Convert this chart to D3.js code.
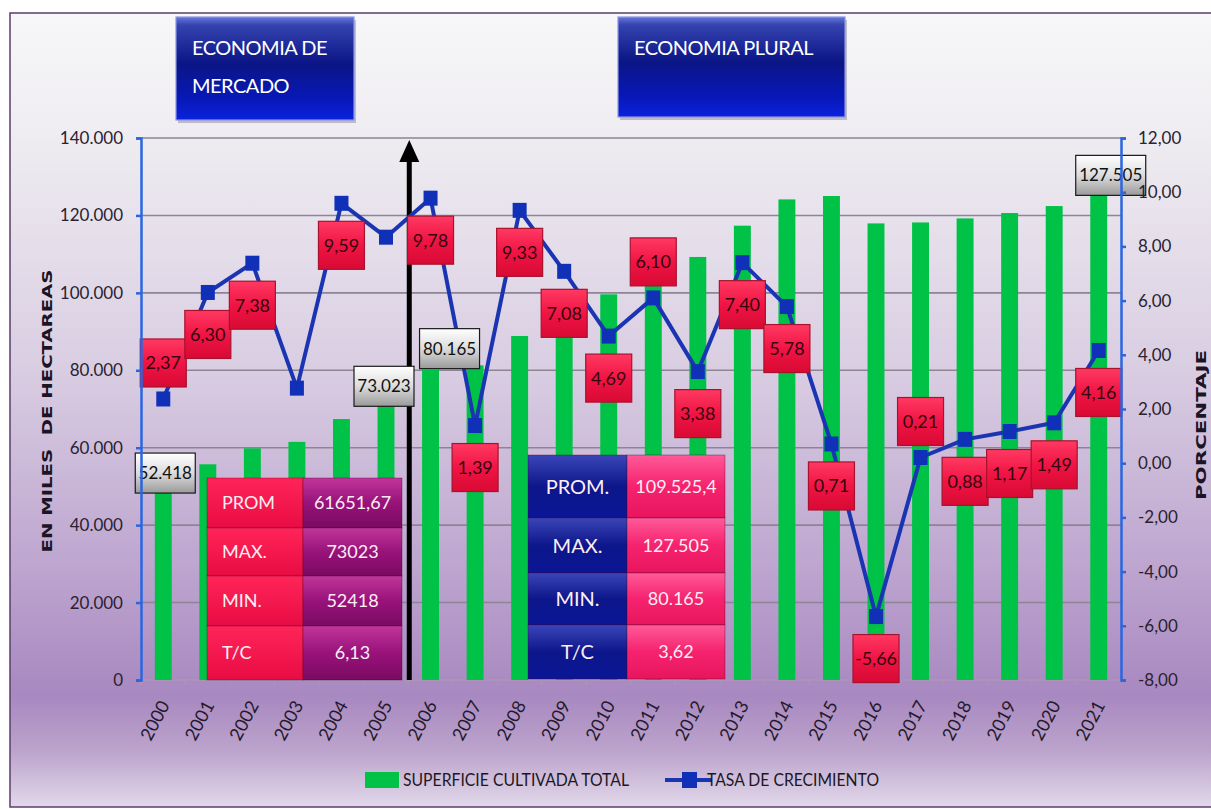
<!DOCTYPE html>
<html>
<head>
<meta charset="utf-8">
<script src="https://cdn.jsdelivr.net/npm/d3@7"></script>
<style>
  html, body { margin: 0; padding: 0; background: #ffffff; }
  svg { display: block; }
  .narrow { font-family: Lato, "Liberation Sans", sans-serif; }
</style>
</head>
<body>
<svg id="chart" width="1211" height="809"></svg>
<script>
// ---------------- DATA ----------------
const years = ["2000","2001","2002","2003","2004","2005","2006","2007","2008","2009","2010",
               "2011","2012","2013","2014","2015","2016","2017","2018","2019","2020","2021"];
// Superficie cultivada total (hectáreas)
const surface = [52418, 55720, 59840, 61500, 67400, 73023, 80165, 81280, 88860, 95150, 99620,
                 105690, 109270, 117350, 124140, 125020, 117940, 118190, 119230, 120620, 122420, 127505];
// Tasa de crecimiento (%)
const growth = [2.37, 6.30, 7.38, 2.77, 9.59, 8.34, 9.78, 1.39, 9.33, 7.08, 4.69,
                6.10, 3.38, 7.40, 5.78, 0.71, -5.66, 0.21, 0.88, 1.17, 1.49, 4.16];
// which growth values carry a label, and on which side of the marker
const growthLabelSide = ["above","below","below",null,"below",null,"below","below","below","below","below",
                         "above","below","below","below","below","below","above","below","below","below","below"];
// bars that carry a value label
const surfaceLabelYears = ["2000","2005","2006","2021"];

const leftTicks = [0, 20000, 40000, 60000, 80000, 100000, 120000, 140000];
const leftTickLabels = ["0","20.000","40.000","60.000","80.000","100.000","120.000","140.000"];
const rightTicks = [-8, -6, -4, -2, 0, 2, 4, 6, 8, 10, 12];
const rightTickLabels = ["-8,00","-6,00","-4,00","-2,00","0,00","2,00","4,00","6,00","8,00","10,00","12,00"];

const periodTitles = ["ECONOMIA DE|MERCADO", "ECONOMIA PLURAL"];
const statNamesA = ["PROM","MAX.","MIN.","T/C"];
const statValuesA = ["61651,67","73023","52418","6,13"];
const statNamesB = ["PROM.","MAX.","MIN.","T/C"];
const statValuesB = ["109.525,4","127.505","80.165","3,62"];

const seriesNames = ["SUPERFICIE CULTIVADA TOTAL", "TASA DE CRECIMIENTO"];
const leftTitle = "EN MILES  DE HECTAREAS";
const rightTitle = "PORCENTAJE";

// ---------------- DRAW ----------------
const esLocale = d3.formatLocale({decimal: ",", thousands: ".", grouping: [3], currency: ["", ""], minus: "-"});
const fmtInt = esLocale.format(",d");
const fmtPct = esLocale.format(".2f");

const svg = d3.select("#chart");
const defs = svg.append("defs");

function vGrad(id, stops) {
  const g = defs.append("linearGradient").attr("id", id).attr("x1", 0).attr("y1", 0).attr("x2", 0).attr("y2", 1);
  stops.forEach(s => g.append("stop").attr("offset", s[0]).attr("stop-color", s[1]));
}
vGrad("bgGrad", [[0,"#f7f6f8"],[0.15,"#efedf1"],[0.45,"#d9cde2"],[0.7,"#bda5cf"],[0.86,"#a888c0"],[0.93,"#bca4cc"],[1,"#e2d8ea"]]);
vGrad("hdrGrad", [[0,"#6677d8"],[0.08,"#3443b0"],[0.45,"#0b1585"],[0.8,"#0818b8"],[1,"#0a22dd"]]);
vGrad("redBox", [[0,"#ff3a62"],[0.5,"#f01444"],[1,"#d80a34"]]);
vGrad("greyBox", [[0,"#ffffff"],[0.5,"#dcdcdc"],[1,"#9a9a9a"]]);
vGrad("crimsonCell", [[0,"#ff2458"],[1,"#e80c44"]]);
vGrad("purpleCell", [[0,"#c0369a"],[0.5,"#98127a"],[1,"#7a0a62"]]);
vGrad("blueCell", [[0,"#3a46b8"],[0.5,"#0d168a"],[1,"#0a1696"]]);
vGrad("pinkCell", [[0,"#ff5a98"],[0.5,"#f5226e"],[1,"#e8155e"]]);

// background + frame
svg.append("rect").attr("x", 10).attr("y", 13).attr("width", 1215).attr("height", 794)
  .attr("fill", "url(#bgGrad)").attr("stroke", "#5b3c6e").attr("stroke-width", 1.5);

const plotL = 141, plotR = 1121, plotT = 138, plotB = 680;
const x = d3.scaleBand().domain(years).range([plotL, plotR]);
const yL = d3.scaleLinear().domain([0, 140000]).range([plotB, plotT]);
const yR = d3.scaleLinear().domain([-8, 12]).range([plotB, plotT]);
const cx = d => x(d) + x.bandwidth() / 2;

// gridlines
svg.append("g").selectAll("line").data(leftTicks.filter(t => t > 0)).join("line")
  .attr("x1", plotL).attr("x2", plotR).attr("y1", d => yL(d)).attr("y2", d => yL(d))
  .attr("stroke", "#8d8596").attr("stroke-width", 1.6);

// baseline with category ticks
svg.append("line").attr("x1", plotL).attr("x2", plotR).attr("y1", plotB).attr("y2", plotB)
  .attr("stroke", "#a99ab4").attr("stroke-width", 1);
svg.append("g").selectAll("line").data(years).join("line")
  .attr("x1", d => x(d)).attr("x2", d => x(d)).attr("y1", plotB).attr("y2", plotB + 5)
  .attr("stroke", "#a99ab4").attr("stroke-width", 1);

// bars
const barW = x.bandwidth() * 0.38;
svg.append("g").selectAll("rect").data(years).join("rect")
  .attr("x", d => cx(d) - barW / 2)
  .attr("width", barW)
  .attr("y", (d, i) => yL(surface[i]))
  .attr("height", (d, i) => plotB - yL(surface[i]))
  .attr("fill", "#00c247");

// stats tables
function table(x0, rowsY, w1, w2, names, values, fillA, fillB, nameAnchor, nameSize) {
  const g = svg.append("g").attr("class", "narrow");
  names.forEach((n, i) => {
    const y0 = rowsY[i], h = rowsY[i + 1] - rowsY[i];
    g.append("rect").attr("x", x0).attr("y", y0).attr("width", w1).attr("height", h)
      .attr("fill", fillA).attr("stroke", "rgba(90,0,40,0.35)").attr("stroke-width", 1);
    g.append("rect").attr("x", x0 + w1).attr("y", y0).attr("width", w2).attr("height", h)
      .attr("fill", fillB).attr("stroke", "rgba(60,0,40,0.35)").attr("stroke-width", 1);
    g.append("text")
      .attr("x", nameAnchor === "start" ? x0 + 15 : x0 + w1 / 2)
      .attr("y", y0 + h / 2).attr("dy", "0.36em")
      .attr("text-anchor", nameAnchor).attr("font-size", nameSize).attr("fill", "#fdeef4")
      .text(n);
    g.append("text").attr("x", x0 + w1 + w2 / 2).attr("y", y0 + h / 2).attr("dy", "0.36em")
      .attr("text-anchor", "middle").attr("font-size", 18).attr("fill", "#fdeef4")
      .text(values[i]);
  });
}
table(207, [478, 528, 576, 626, 680], 96, 99, statNamesA, statValuesA,
      "url(#crimsonCell)", "url(#purpleCell)", "start", 18);
table(528, [455, 518, 573, 625, 679], 99, 98, statNamesB, statValuesB,
      "url(#blueCell)", "url(#pinkCell)", "middle", 20);

// arrow between periods
const arrowX = x("2006") + 1;
svg.append("line").attr("x1", arrowX).attr("x2", arrowX).attr("y1", plotB).attr("y2", 155)
  .attr("stroke", "#000").attr("stroke-width", 5);
svg.append("path")
  .attr("d", `M${arrowX},${plotT + 2} L${arrowX - 10},${plotT + 24} L${arrowX + 10},${plotT + 24} Z`)
  .attr("fill", "#000");

// growth line
const line = d3.line().x((d, i) => cx(years[i])).y(d => yR(d));
svg.append("path").datum(growth).attr("d", line)
  .attr("fill", "none").attr("stroke", "#1a34b2").attr("stroke-width", 4).attr("stroke-linejoin", "round");
svg.append("g").selectAll("rect").data(growth).join("rect")
  .attr("x", (d, i) => cx(years[i]) - 7).attr("y", d => yR(d) - 7.5)
  .attr("width", 14).attr("height", 15).attr("fill", "#1030b8");

// growth labels
const gl = svg.append("g").attr("class", "narrow");
growth.forEach((v, i) => {
  const side = growthLabelSide[i];
  if (!side) return;
  const mx = cx(years[i]);
  const my = yR(v) + (side === "above" ? -36 : 42);
  gl.append("rect").attr("x", mx - 23).attr("y", my - 24).attr("width", 46).attr("height", 48)
    .attr("fill", "url(#redBox)").attr("stroke", "#a8122e").attr("stroke-width", 1.2);
  gl.append("text").attr("x", mx).attr("y", my).attr("dy", "0.36em").attr("text-anchor", "middle")
    .attr("font-size", 18).attr("fill", "#35060e").text(fmtPct(v));
});

// surface labels
const labelShift = {"2000": [2, -4], "2005": [-2, -11], "2006": [19, -21], "2021": [12, -11]};
const sl = svg.append("g").attr("class", "narrow");
surfaceLabelYears.forEach(yr => {
  const i = years.indexOf(yr);
  const s = labelShift[yr];
  const lx = cx(yr) + s[0], ly = yL(surface[i]) + s[1];
  const txt = fmtInt(surface[i]);
  const w = txt.length > 6 ? 70 : 60;
  sl.append("rect").attr("x", lx - w / 2).attr("y", ly - 20).attr("width", w).attr("height", 40)
    .attr("fill", "url(#greyBox)").attr("stroke", "#1a1a1a").attr("stroke-width", 1.2);
  sl.append("text").attr("x", lx).attr("y", ly).attr("dy", "0.36em").attr("text-anchor", "middle")
    .attr("font-size", 17).attr("fill", "#111").text(txt);
});

// axes
const axL = svg.append("g").attr("transform", `translate(${plotL},0)`)
  .call(d3.axisLeft(yL).tickValues(leftTicks).tickFormat((d, i) => leftTickLabels[i]).tickSize(5).tickPadding(13));
const axR = svg.append("g").attr("transform", `translate(${plotR},0)`)
  .call(d3.axisRight(yR).tickValues(rightTicks).tickFormat((d, i) => rightTickLabels[i]).tickSize(5).tickPadding(12));
[axL, axR].forEach(a => {
  a.select(".domain").attr("stroke", "#2a66e0").attr("stroke-width", 2.5);
  a.selectAll(".tick line").attr("stroke", "#2a66e0").attr("stroke-width", 2.5);
  a.selectAll(".tick text").attr("font-size", 17).attr("fill", "#2a2230")
    .attr("font-family", "Lato, \"Liberation Sans\", sans-serif");
});

// x labels
svg.append("g").attr("class", "narrow").selectAll("text").data(years).join("text")
  .attr("transform", d => `translate(${cx(d) + 7},${plotB + 25}) rotate(-62)`)
  .attr("text-anchor", "end").attr("font-size", 18).attr("fill", "#241a2c")
  .text(d => d);

// axis titles
svg.append("text").attr("transform", `translate(52,411) rotate(-90)`)
  .attr("text-anchor", "middle").attr("font-family", "DejaVu Sans, sans-serif").attr("font-weight", "bold")
  .attr("font-size", 14).attr("fill", "#1c1424").attr("textLength", 283).attr("lengthAdjust", "spacingAndGlyphs")
  .attr("xml:space", "preserve").text(leftTitle);
svg.append("text").attr("transform", `translate(1206,425) rotate(-90)`)
  .attr("text-anchor", "middle").attr("font-family", "DejaVu Sans, sans-serif").attr("font-weight", "bold")
  .attr("font-size", 14).attr("fill", "#1c1424").attr("textLength", 150).attr("lengthAdjust", "spacingAndGlyphs")
  .text(rightTitle);

// period header boxes
const hdrBoxes = [[176, 17, 178, 103], [618, 17, 227, 100]];
periodTitles.forEach((t, k) => {
  const b = hdrBoxes[k];
  const g = svg.append("g").attr("class", "narrow");
  g.append("rect").attr("x", b[0] + 2).attr("y", b[1] + 3).attr("width", b[2]).attr("height", b[3])
    .attr("fill", "rgba(40,30,70,0.25)");
  g.append("rect").attr("x", b[0]).attr("y", b[1]).attr("width", b[2]).attr("height", b[3])
    .attr("fill", "url(#hdrGrad)").attr("stroke", "#8a96e6").attr("stroke-width", 1.2);
  t.split("|").forEach((ln, j) => {
    g.append("text").attr("x", b[0] + 16).attr("y", b[1] + 38 + j * 38)
      .attr("font-size", 20).attr("fill", "#ffffff").attr("letter-spacing", -0.5).text(ln);
  });
});

// legend
const lg = svg.append("g").attr("class", "narrow");
lg.append("rect").attr("x", 365).attr("y", 772).attr("width", 34).attr("height", 16).attr("fill", "#00c247");
lg.append("text").attr("x", 403).attr("y", 780).attr("dy", "0.36em").attr("font-size", 18)
  .attr("fill", "#1e1626").attr("textLength", 226).attr("lengthAdjust", "spacingAndGlyphs").text(seriesNames[0]);
lg.append("line").attr("x1", 665).attr("x2", 712).attr("y1", 780).attr("y2", 780)
  .attr("stroke", "#1a34b2").attr("stroke-width", 4);
lg.append("rect").attr("x", 682).attr("y", 772).attr("width", 15).attr("height", 16).attr("fill", "#1030b8");
lg.append("text").attr("x", 707).attr("y", 780).attr("dy", "0.36em").attr("font-size", 18)
  .attr("fill", "#1e1626").attr("textLength", 172).attr("lengthAdjust", "spacingAndGlyphs").text(seriesNames[1]);
</script>
</body>
</html>
